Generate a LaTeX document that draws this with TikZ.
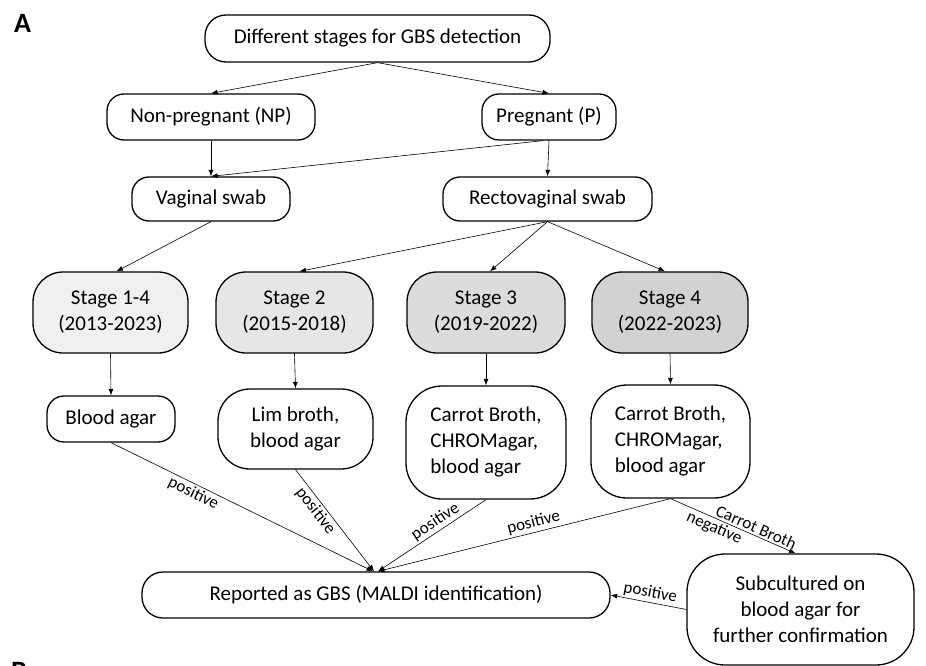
\documentclass[tikz,border=0pt]{standalone}
\usepackage{fontspec}
\setmainfont{Carlito}
\usetikzlibrary{arrows.meta}
\definecolor{fillA}{HTML}{F0F0F0}
\definecolor{fillB}{HTML}{E6E6E6}
\definecolor{fillC}{HTML}{DCDCDC}
\definecolor{fillD}{HTML}{D2D2D2}
\begin{document}
\begin{tikzpicture}[x=1pt,y=-1pt,
  box/.style={draw, line width=1.3pt, rounded corners=#1, align=center,
    font=\fontsize{21}{26}\selectfont, inner sep=0pt},
  box/.default=17pt,
  conn/.style={-{Latex[length=6.5pt,width=5pt]}, line width=0.6pt},
  lbl/.style={font=\fontsize{17}{19}\selectfont, sloped, inner sep=2pt},
  panel/.style={font=\fontsize{28}{30}\selectfont\bfseries, inner sep=0pt, anchor=base west}
]
\useasboundingbox (0,0) rectangle (926,666);

\node[panel] (pa) at (14,33) {A};
\node[panel] (pb) at (11,680) {B};

\node[box=21pt, minimum width=345pt, minimum height=47pt] (top) at (377.5,38.5) {Different stages for GBS detection};
\node[box, minimum width=208pt, minimum height=46pt] (np) at (211,117) {Non-pregnant (NP)};
\node[box, minimum width=134pt, minimum height=46pt] (p) at (549,117) {Pregnant (P)};
\node[box, minimum width=158pt, minimum height=44pt] (vag) at (211,199) {Vaginal swab};
\node[box, minimum width=209pt, minimum height=44pt] (rect) at (547.5,199) {Rectovaginal swab};

\node[box=30pt, fill=fillA, minimum width=155pt, minimum height=81pt] (s1) at (110.5,312.5) {Stage 1-4\\(2013-2023)};
\node[box=30pt, fill=fillB, minimum width=157pt, minimum height=81pt] (s2) at (294.5,312.5) {Stage 2\\(2015-2018)};
\node[box=30pt, fill=fillC, minimum width=158pt, minimum height=81pt] (s3) at (486,312.5) {Stage 3\\(2019-2022)};
\node[box=30pt, fill=fillD, minimum width=156pt, minimum height=81pt] (s4) at (670,312.5) {Stage 4\\(2022-2023)};

\node[box, minimum width=128pt, minimum height=46pt] (m1) at (111,419) {Blood agar};
\node[box=32pt, minimum width=155pt, minimum height=80pt] (m2) at (295.5,429) {Lim broth,\\blood agar};
\node[box=36pt, minimum width=160pt, minimum height=113pt, align=left] (m3) at (486,442.5) {Carrot Broth,\\CHROMagar,\\blood agar};
\node[box=36pt, minimum width=159pt, minimum height=113pt, align=left] (m4) at (670.5,441.5) {Carrot Broth,\\CHROMagar,\\blood agar};

\node[box=21pt, minimum width=468pt, minimum height=46pt] (rep) at (376,595) {Reported as GBS (MALDI identification)};
\node[box=38pt, minimum width=227pt, minimum height=111pt] (sub) at (800.5,609.5) {Subcultured on\\blood agar for\\further confirmation};

\draw[conn] (top.south) -- (np.north);
\draw[conn] (top.south) -- (p.north);
\draw[conn] (np.south) -- (vag.north);
\draw[conn] ([xshift=-6pt]p.south) -- (vag.north);
\draw[conn] (p.south) -- (rect.north);
\draw[conn] (vag.south) -- ([xshift=6pt]s1.north);
\draw[conn] (rect.south) -- ([xshift=5pt]s2.north);
\draw[conn] (rect.south) -- ([xshift=4pt]s3.north);
\draw[conn] (rect.south) -- ([xshift=-5pt]s4.north);
\draw[conn] (s1.south) -- (m1.north);
\draw[conn] (s2.south) -- (m2.north);
\draw[conn] (s3.south) -- (m3.north);
\draw[conn] (s4.south) -- (m4.north);

\draw[conn] (m1.south) -- node[lbl, below, pos=0.33] {positive} ([xshift=-3pt]rep.north);
\draw[conn] (m2.south) -- node[lbl, below, pos=0.35] {positive} ([xshift=-2pt]rep.north);
\draw[conn] (m3.south) -- node[lbl, above, pos=0.42] {positive} ([xshift=2pt]rep.north);
\draw[conn] (m4.south) -- node[lbl, above, pos=0.46] {positive} ([xshift=2pt]rep.north);
\draw[conn] (m4.south) -- node[lbl, above, pos=0.66] {Carrot Broth} node[lbl, below, pos=0.38] {negative} ([xshift=-5pt]sub.north);
\draw[conn] (sub.west) -- node[lbl, above, pos=0.5] {positive} (rep.east);
\end{tikzpicture}
\end{document}
